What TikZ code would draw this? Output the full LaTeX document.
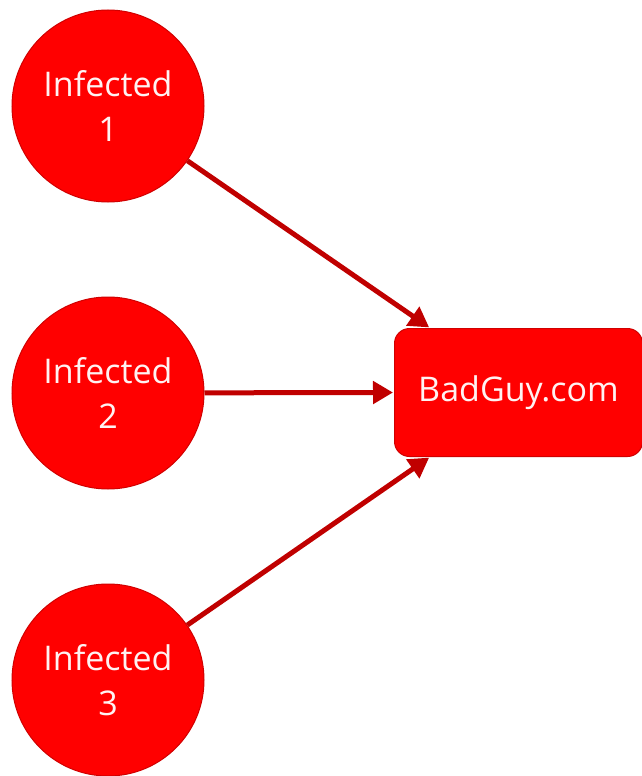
\documentclass[tikz,border=0pt]{standalone}
\usepackage{fontspec}
\setmainfont{Open Sans}
\usetikzlibrary{arrows.meta,calc}
\definecolor{fillred}{HTML}{FF0000}
\definecolor{edgered}{HTML}{D00000}
\definecolor{arrowred}{HTML}{C00000}
\definecolor{txt}{HTML}{FFF2F2}
\tikzset{
  infected/.style={circle, fill=fillred, draw=edgered, line width=1pt, minimum size=192pt, inner sep=0pt, text=txt, align=center, font=\fontsize{34}{45}\selectfont},
  server/.style={rectangle, rounded corners=15pt, fill=fillred, draw=edgered, line width=1pt, minimum width=248pt, minimum height=128pt, text=txt, font=\fontsize{34}{40}\selectfont},
  link/.style={draw=arrowred, line width=5pt, -{Triangle[length=20pt,width=22pt]}, shorten >=1pt}
}
\begin{document}
\begin{tikzpicture}[x=1pt,y=-1pt]
\useasboundingbox (0,0) rectangle (642,776);
\node[infected] (i1) at (108,106) {Infected\\1};
\node[infected] (i2) at (108,393) {Infected\\2};
\node[infected] (i3) at (108,680) {Infected\\3};
\node[server] (bg) at (518.5,392.5) {BadGuy.com};
\coordinate (t1) at ($(bg.north west)+(36,0)$);
\coordinate (t3) at ($(bg.south west)+(36,0)$);
\draw[link] (i1) -- (t1);
\draw[link] (i2) -- (bg.west);
\draw[link] (i3) -- (t3);
\end{tikzpicture}
\end{document}
